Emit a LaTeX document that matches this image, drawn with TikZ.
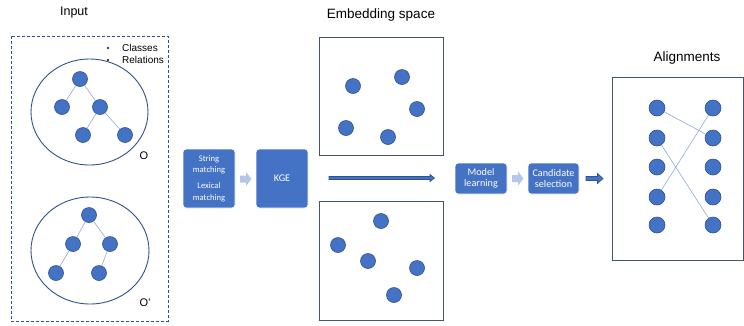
\documentclass[tikz,border=0pt]{standalone}
\usepackage{fontspec}
\setmainfont{Liberation Sans}
\newfontfamily\boxfont{Carlito}
\definecolor{accent}{HTML}{4472C4}
\definecolor{dkblue}{HTML}{2F528F}
\definecolor{ltline}{HTML}{8FAADC}
\definecolor{ltarrow}{HTML}{B4C7E7}
\definecolor{framegray}{HTML}{44546A}
\tikzset{
  dot/.style={circle, fill=accent, draw=dkblue, line width=0.6pt, minimum size=15pt, inner sep=0pt},
  adot/.style={dot, minimum size=16pt},
  treeedge/.style={ltline, line width=0.6pt},
  procbox/.style={rectangle, rounded corners=3pt, fill=accent, draw=white, line width=0.8pt,
    text=white, font=\boxfont\fontsize{10.2}{11}\selectfont, align=center, inner sep=0pt},
  heading/.style={font=\fontsize{13.5}{15}\selectfont},
  frame/.style={framegray, line width=0.9pt},
  ring/.style={dkblue, line width=0.9pt},
  lightarrow/.style={fill=ltarrow, draw=none},
  darkarrow/.style={fill=accent, draw=dkblue, line width=0.7pt},
}
\begin{document}
\begin{tikzpicture}[x=1pt,y=-1pt]
\useasboundingbox (0,0) rectangle (744,325);
\fill[white] (0,0) rectangle (744,325);

% ---- Input ----
\node[heading, font=\fontsize{12.5}{14}\selectfont] (tin) at (74,12) {Input};
\draw[dkblue, line width=1pt, dash pattern=on 3pt off 2pt] (11,36) rectangle (168,321);
\fill (108,48) circle (1.2);
\fill (108,60) circle (1.2);
\node[anchor=west, inner sep=0pt, font=\fontsize{10}{11}\selectfont] (tcl) at (122,48) {Classes};
\node[anchor=west, inner sep=0pt, font=\fontsize{10}{11}\selectfont] (tre) at (122,60) {Relations};

\draw[ring] (89.5,112) ellipse [x radius=58.5, y radius=53];
\node[dot] (a1) at (80,79) {};
\node[dot] (a2) at (62,107) {};
\node[dot] (a3) at (100,107) {};
\node[dot] (a4) at (83,135) {};
\node[dot] (a5) at (125,135) {};
\draw[treeedge] (a1) -- (a2);
\draw[treeedge] (a1) -- (a3);
\draw[treeedge] (a3) -- (a4);
\draw[treeedge] (a3) -- (a5);
\node[font=\fontsize{11}{12}\selectfont] (lo) at (144,156) {O};

\draw[ring] (90,250.5) ellipse [x radius=59, y radius=53.5];
\node[dot] (b1) at (89,215) {};
\node[dot] (b2) at (73,244) {};
\node[dot] (b3) at (110,244) {};
\node[dot] (b4) at (56,273) {};
\node[dot] (b5) at (99,273) {};
\draw[treeedge] (b1) -- (b2);
\draw[treeedge] (b1) -- (b3);
\draw[treeedge] (b2) -- (b4);
\draw[treeedge] (b3) -- (b5);
\node[font=\fontsize{11}{12}\selectfont] (lo2) at (145,303) {O'};

% ---- Matching and KGE ----
\node[procbox, minimum width=52pt, minimum height=59pt] (sm) at (209,178.5) {};
\node[text=white, font=\boxfont\fontsize{8.6}{11.5}\selectfont, align=center, inner sep=0pt] (smt) at (209,165) {String\\matching};
\node[text=white, font=\boxfont\fontsize{8.6}{11.5}\selectfont, align=center, inner sep=0pt] (lmt) at (209,192) {Lexical\\matching};
\node[procbox, minimum width=52pt, minimum height=59pt] (kge) at (282,178.5) {KGE};
\path[lightarrow] (240,175.5) -- (246,175.5) -- (246,172) -- (251.5,179) -- (246,186) -- (246,182.5) -- (240,182.5) -- cycle;

% ---- Embedding space ----
\node[heading] (tes) at (381,15) {Embedding space};
\draw[frame] (319,37) rectangle (443,155);
\draw[frame] (319,201) rectangle (443,320);
\node[dot] (e1) at (353,86) {};
\node[dot] (e2) at (402,77) {};
\node[dot] (e3) at (417,109) {};
\node[dot] (e4) at (346,128) {};
\node[dot] (e5) at (388,137) {};
\node[dot] (f1) at (381,221) {};
\node[dot] (f2) at (338,245) {};
\node[dot] (f3) at (368,261) {};
\node[dot] (f4) at (417,268) {};
\node[dot] (f5) at (394,295) {};
\path[darkarrow] (329,176.5) -- (430,176.5) -- (430,174.5) -- (434.5,178) -- (430,181.5) -- (430,179.5) -- (329,179.5) -- cycle;

% ---- Model learning / Candidate selection ----
\node[procbox, minimum width=52pt, minimum height=31pt] (ml) at (481,178.5) {Model\\learning};
\node[procbox, minimum width=51pt, minimum height=31pt] (cs) at (553.5,178.5) {Candidate\\selection};
\path[lightarrow] (512,175) -- (518,175) -- (518,171.5) -- (523.5,178.5) -- (518,185.5) -- (518,182) -- (512,182) -- cycle;
\path[darkarrow] (586,176.5) -- (597.5,176.5) -- (597.5,173.5) -- (603,178.5) -- (597.5,183.5) -- (597.5,180.5) -- (586,180.5) -- cycle;

% ---- Alignments ----
\node[heading] (tal) at (687,58) {Alignments};
\draw[frame] (612,77) rectangle (743,260);
\foreach \i/\y in {1/108,2/138,3/167,4/197,5/225}{
  \node[adot] (l\i) at (657,\y) {};
  \node[adot] (r\i) at (713,\y) {};
}
\draw[treeedge] (l1) -- (r2);
\draw[treeedge] (l2) -- (r5);
\draw[treeedge] (l4) -- (r1);
\end{tikzpicture}
\end{document}
